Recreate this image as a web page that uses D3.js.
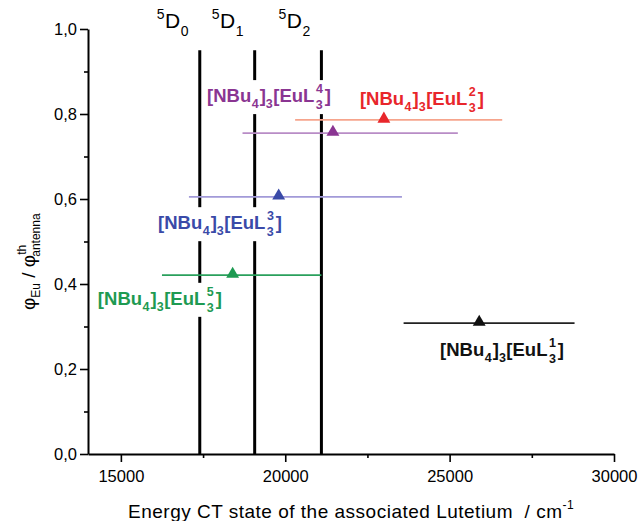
<!DOCTYPE html>
<html><head><meta charset="utf-8">
<script src="https://cdn.jsdelivr.net/npm/d3@7"></script>
<style>
body{margin:0;background:#fff;}
svg{display:block;font-family:"Liberation Sans",Arial,sans-serif;}
</style></head>
<body><svg id="c" width="640" height="521"></svg>
<script>
// ---- data ----
const compounds = ["1","2","3","4","5"];              // ligand index L^n
const energy    = [25900, 23000, 19800, 21450, 18400]; // CT energy (cm-1)
const energyLow = [23600, 20300, 17070, 18700, 16250];
const energyHigh= [28800, 26600, 23550, 25250, 21100];
const ratio     = [0.308, 0.786, 0.605, 0.755, 0.421];
const pointColors = ["#111111","#e8262b","#3a4aa8","#8a3592","#1e9a52"];
const barColors   = ["#222222","#f6a48c","#a29ad8","#b88cc6","#2aa05c"];
// label anchor points in data space (left, baseline)
const labelX = [24710, 22270, 16130, 17620, 14300];
const labelY = [0.231, 0.821, 0.529, 0.828, 0.351];

const levels      = ["0","1","2"];          // 5D_J
const levelEnergy = [17400, 19070, 21100];
const levelTop    = 0.95;

const xTicks = [15000, 20000, 25000, 30000];
const xMinor = [17500, 22500, 27500];
const yTicks = [0, 0.2, 0.4, 0.6, 0.8, 1.0];
const yMinor = [0.1, 0.3, 0.5, 0.7, 0.9];

// ---- scales ----
const svg = d3.select("#c");
const x = d3.scaleLinear().domain([14000, 30000]).range([88, 614]);
const y = d3.scaleLinear().domain([0, 1]).range([454, 29]);
const fmtY = d => d3.format(".1f")(d).replace(".", ",");

// ---- axes ----
svg.append("g").attr("transform","translate(88,0)")
  .call(d3.axisLeft(y).tickValues(yTicks).tickFormat(fmtY).tickSize(8).tickSizeOuter(0).tickPadding(3));
svg.append("g").attr("transform","translate(88,0)")
  .call(d3.axisLeft(y).tickValues(yMinor).tickFormat("").tickSize(4).tickSizeOuter(0))
  .select(".domain").remove();
svg.append("g").attr("transform","translate(0,454)")
  .call(d3.axisBottom(x).tickValues(xTicks).tickFormat(d3.format("d")).tickSize(8).tickSizeOuter(0).tickPadding(8));
svg.append("g").attr("transform","translate(0,454)")
  .call(d3.axisBottom(x).tickValues(xMinor).tickFormat("").tickSize(4).tickSizeOuter(0))
  .select(".domain").remove();
svg.selectAll(".domain").attr("stroke","#000").attr("stroke-width",2);
svg.selectAll(".tick line").attr("stroke","#000").attr("stroke-width",1.6);
svg.selectAll(".tick text").attr("font-size",16.5).attr("fill","#000")
   .attr("font-family",'"Liberation Sans",Arial,sans-serif');

// ---- level lines ----
svg.append("g").selectAll("line").data(levelEnergy).join("line")
  .attr("x1",d=>x(d)).attr("x2",d=>x(d))
  .attr("y1",y(levelTop)).attr("y2",y(0))
  .attr("stroke","#000").attr("stroke-width",3);

const lvl = svg.append("g").selectAll("text").data(levels).join("text")
  .attr("x",(d,i)=>x(levelEnergy[i]) - 43)
  .attr("y",28).attr("font-size",21).attr("fill","#000");
lvl.append("tspan").attr("font-size",14).attr("dy",-9).text("5");
lvl.append("tspan").attr("dy",9).attr("dx",0.5).text("D");
lvl.append("tspan").attr("font-size",14).attr("dy",8).attr("dx",0.5).text(d=>d);

// ---- label backgrounds and labels ----
const bgG = svg.append("g");
const barG = svg.append("g");
const labG = svg.append("g");

compounds.forEach((c,i)=>{
  const t = labG.append("text")
    .attr("x",x(labelX[i])).attr("y",y(labelY[i]))
    .attr("font-size",18.5).attr("font-weight","bold").attr("fill",pointColors[i]);
  t.append("tspan").text("[NBu");
  t.append("tspan").attr("font-size",12.5).attr("dy",6).attr("dx",0.5).text("4");
  t.append("tspan").attr("dy",-6).attr("dx",1).text("]");
  t.append("tspan").attr("font-size",12.5).attr("dy",6).text("3");
  t.append("tspan").attr("dy",-6).attr("dx",0.5).text("[EuL");
  t.append("tspan").attr("font-size",12.5).attr("dy",-9).attr("dx",1.5).text(c);
  t.append("tspan").attr("font-size",12.5).attr("dy",16).attr("dx",-7).text("3");
  t.append("tspan").attr("dy",-7).attr("dx",2).text("]");
  const b = t.node().getBBox();
  bgG.append("rect").attr("x",b.x-2).attr("y",b.y-2).attr("width",b.width+4).attr("height",b.height+4).attr("fill","#fff");
});

// ---- error bars & points ----
barG.selectAll("line").data(compounds).join("line")
  .attr("x1",(d,i)=>x(energyLow[i])).attr("x2",(d,i)=>x(energyHigh[i]))
  .attr("y1",(d,i)=>y(ratio[i])).attr("y2",(d,i)=>y(ratio[i]))
  .attr("stroke",(d,i)=>barColors[i]).attr("stroke-width",1.8);
barG.selectAll("path").data(compounds).join("path")
  .attr("d",d3.symbol(d3.symbolTriangle,72))
  .attr("transform",(d,i)=>`translate(${x(energy[i])},${y(ratio[i])-1})`)
  .attr("fill",(d,i)=>pointColors[i]);

// ---- axis titles ----
const xt = svg.append("text").attr("x",128).attr("y",518).attr("font-size",19)
  .attr("letter-spacing",0.5).attr("fill","#000");
xt.append("tspan").text("Energy CT state of the associated Lutetium\u00a0 / cm");
xt.append("tspan").attr("font-size",12).attr("dy",-9).text("-1");

const yt = svg.append("text").attr("transform","translate(35,310) rotate(-90)").attr("font-size",19).attr("fill","#000");
yt.append("tspan").text("\u03c6");
yt.append("tspan").attr("font-size",12).attr("dy",5).text("Eu");
yt.append("tspan").attr("dy",-5).text(" / \u03c6");
yt.append("tspan").attr("font-size",12).attr("dy",-9).text("th");
yt.append("tspan").attr("font-size",12).attr("dy",14).attr("dx",-12).text("antenna");
</script></body></html>
